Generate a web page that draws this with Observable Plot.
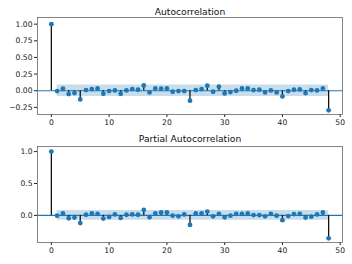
<!DOCTYPE html>
<html>
<head>
<meta charset="utf-8">
<script src="https://cdn.jsdelivr.net/npm/d3@7"></script>
<script src="https://cdn.jsdelivr.net/npm/@observablehq/plot@0.6"></script>
<style>
  html, body { margin: 0; padding: 0; background: #fff; }
  #chart svg { display: block; }
</style>
</head>
<body>
<div id="chart"></div>
<script>
const lags = [0,1,2,3,4,5,6,7,8,9,10,11,12,13,14,15,16,17,18,19,20,21,22,23,24,25,26,27,28,29,30,31,32,33,34,35,36,37,38,39,40,41,42,43,44,45,46,47,48];
const acfValues = [1.0,-0.005,0.03,-0.05,-0.035,-0.13,0.01,0.025,0.035,-0.045,-0.005,0.005,-0.045,0.005,0.025,0.015,0.08,-0.025,0.035,0.03,0.035,-0.015,-0.005,-0.005,-0.15,0.01,0.025,0.075,-0.015,0.06,-0.04,-0.02,0.0,0.035,0.035,0.01,0.015,-0.025,0.005,-0.025,-0.085,-0.005,0.015,0.02,-0.035,0.01,0.005,0.035,-0.295];
const pacfValues = [1.0,-0.005,0.03,-0.045,-0.035,-0.12,0.01,0.03,0.025,-0.05,-0.025,0.015,-0.04,0.01,0.015,0.01,0.085,-0.03,0.03,0.045,0.045,-0.005,-0.015,0.015,-0.15,0.03,0.03,0.06,-0.015,0.025,-0.03,-0.005,0.025,0.025,0.03,0.005,0.005,-0.015,0.025,-0.005,-0.075,-0.01,0.02,0.025,-0.035,-0.02,0.015,0.045,-0.36];
const acfBand = 0.085;
const pacfBand = 0.078;
const xTicks = [0,10,20,30,40,50];
const acfYTicks = [-0.25,0,0.25,0.5,0.75,1.0];
const pacfYTicks = [0,0.5,1.0];

const blue = "#1f77b4";
const font = "DejaVu Sans, sans-serif";

function panel({values, band, title, yDomain, yTicks, yFormat, marginTop, marginBottom, titleDy}) {
  const data = lags.map((lag, i) => ({lag, value: values[i]}));
  const bandData = lags.filter(l => l >= 1).map(lag => ({lag, lo: -band, hi: band}));
  return Plot.plot({
    width: 352,
    height: 132,
    marginLeft: 37,
    marginRight: 10,
    marginTop,
    marginBottom,
    style: {fontFamily: font, fontSize: "7.6px", color: "#222", background: "#fff", overflow: "visible"},
    x: {domain: [-2.4, 50.4], ticks: xTicks, tickFormat: d3.format("d"), tickSize: 3, tickPadding: 2, label: null},
    y: {domain: yDomain, ticks: yTicks, tickFormat: d3.format(yFormat), tickSize: 3, tickPadding: 2, label: null},
    marks: [
      Plot.areaY(bandData, {x: "lag", y1: "lo", y2: "hi", fill: blue, fillOpacity: 0.25}),
      Plot.ruleY([0], {stroke: blue, strokeWidth: 1.2}),
      Plot.ruleX(data, {x: "lag", y1: 0, y2: "value", stroke: "#111", strokeWidth: 1.3}),
      Plot.dot(data, {x: "lag", y: "value", r: 2.4, fill: blue, stroke: "none"}),
      Plot.frame({stroke: "#666", strokeWidth: 0.8}),
      Plot.text([title], {frameAnchor: "top", dy: titleDy, lineAnchor: "middle", fontSize: 9.2, fill: "#111", fontFamily: font})
    ]
  });
}

const chart = document.getElementById("chart");
chart.appendChild(panel({
  values: acfValues, band: acfBand, title: "Autocorrelation",
  yDomain: [-0.357, 1.1], yTicks: acfYTicks, yFormat: ".2f",
  marginTop: 17, marginBottom: 18, titleDy: -5
}));
chart.appendChild(panel({
  values: pacfValues, band: pacfBand, title: "Partial Autocorrelation",
  yDomain: [-0.425, 1.08], yTicks: pacfYTicks, yFormat: ".1f",
  marginTop: 14, marginBottom: 22, titleDy: -7
}));
</script>
</body>
</html>
